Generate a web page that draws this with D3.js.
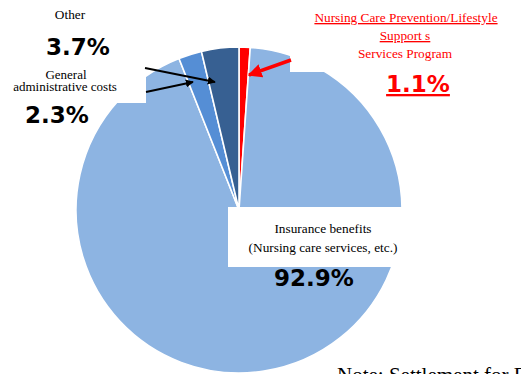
<!DOCTYPE html>
<html><head><meta charset="utf-8">
<script src="https://cdn.jsdelivr.net/npm/d3@7"></script>
<style>
html,body{margin:0;padding:0;background:#fff;overflow:hidden;}
svg{display:block;}
</style></head>
<body>
<svg id="c" width="521" height="374"></svg>
<script>
const categories = ["Nursing Care Prevention/Lifestyle Support Services Program", "Insurance benefits (Nursing care services, etc.)", "General administrative costs", "Other"];
const shares = [1.1, 92.9, 2.3, 3.7];
const sliceColors = ["#FF0000", "#8DB4E2", "#558ED5", "#376092"];
const pctLabels = ["1.1%", "92.9%", "2.3%", "3.7%"];

const svg = d3.select("#c");
const cx = 239, cy = 210, r = 163;
const serif = "Liberation Serif, DejaVu Serif, serif";
const sans = "DejaVu Sans, sans-serif";

const pie = d3.pie().sort(null).value(d => d)(shares);
const arc = d3.arc().innerRadius(0).outerRadius(r);

const g = svg.append("g").attr("transform", `translate(${cx},${cy})`);
g.selectAll("path").data(pie).join("path")
  .attr("d", arc)
  .attr("fill", (d, i) => sliceColors[i])
  .attr("stroke", "#fff")
  .attr("stroke-width", 1.6);

// label boxes
svg.append("rect").attr("x", 0).attr("y", 0).attr("width", 146).attr("height", 103).attr("fill", "#fff");
svg.append("rect").attr("x", 290).attr("y", 0).attr("width", 231).attr("height", 72).attr("fill", "#fff");
svg.append("rect").attr("x", 228).attr("y", 207).attr("width", 174).attr("height", 60).attr("fill", "#fff");

// arrows
const defs = svg.append("defs");
function marker(id, color) {
  defs.append("marker").attr("id", id).attr("viewBox", "0 0 10 10")
    .attr("refX", 9).attr("refY", 5).attr("markerWidth", 4).attr("markerHeight", 4)
    .attr("orient", "auto").attr("markerUnits", "strokeWidth")
    .append("path").attr("d", "M0,0L10,5L0,10z").attr("fill", color);
}
marker("ab", "#000");
marker("ar", "#FF0000");
svg.append("line").attr("x1", 145).attr("y1", 68).attr("x2", 215).attr("y2", 82)
  .attr("stroke", "#000").attr("stroke-width", 2).attr("marker-end", "url(#ab)");
svg.append("line").attr("x1", 146).attr("y1", 92).attr("x2", 193).attr("y2", 82)
  .attr("stroke", "#000").attr("stroke-width", 2).attr("marker-end", "url(#ab)");
svg.append("line").attr("x1", 291).attr("y1", 60).attr("x2", 249).attr("y2", 75)
  .attr("stroke", "#FF0000").attr("stroke-width", 3.5).attr("marker-end", "url(#ar)");

function txt(x, y, s, opt = {}) {
  return svg.append("text").attr("x", x).attr("y", y).attr("text-anchor", opt.anchor || "middle")
    .style("font-family", opt.family || serif).style("font-size", (opt.size || 13.3) + "px")
    .style("font-weight", opt.weight || "normal").attr("fill", opt.fill || "#000")
    .attr("text-decoration", opt.deco || null).text(s);
}

// Other
txt(70, 19, "Other");
txt(78, 55, pctLabels[3], {family: sans, size: 23, weight: "bold"});
// General administrative costs
txt(66, 79, "General", {size: 13});
txt(65, 91, "administrative costs", {size: 13});
txt(57, 123, pctLabels[2], {family: sans, size: 23, weight: "bold"});
// Nursing care prevention
txt(406, 22, "Nursing Care Prevention/Lifestyle ", {fill: "#FF0000", deco: "underline"});
txt(405, 40, "Support s", {fill: "#FF0000", deco: "underline"});
txt(405, 58, "Services Program", {fill: "#FF0000"});
txt(418, 92, pctLabels[0], {family: sans, size: 23, weight: "bold", fill: "#FF0000", deco: "underline"});
// Insurance benefits
txt(323, 233, "Insurance benefits");
txt(323, 252, "(Nursing care services, etc.)");
txt(314, 286, pctLabels[1], {family: sans, size: 23, weight: "bold"});
// Note
txt(337, 382, "Note: Settlement for FY", {anchor: "start", size: 21});
</script>
</body></html>
